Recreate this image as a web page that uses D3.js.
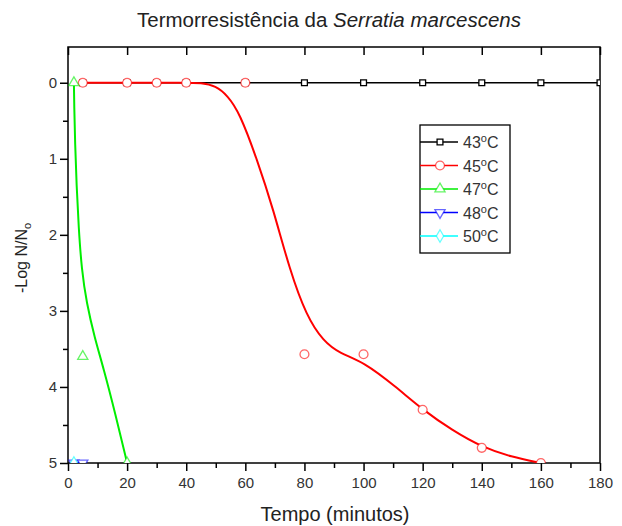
<!DOCTYPE html>
<html>
<head>
<meta charset="utf-8">
<script src="https://cdn.jsdelivr.net/npm/d3@7"></script>
<style>
    body { margin: 0; background: #fff; }
    text { font-family: "Liberation Sans", Arial, sans-serif; }
</style>
</head>
<body>
<div id="chart"></div>
<script>
// measured points
var t43 = [5, 20, 30, 40, 60, 80, 100, 120, 140, 160, 180];
var v43 = [0, 0, 0, 0, 0, 0, 0, 0, 0, 0, 0];
var t45 = [5, 20, 30, 40, 60, 80, 100, 120, 140, 160];
var v45 = [0, 0, 0, 0, 0, 3.57, 3.57, 4.3, 4.8, 5];
var t47 = [2, 5, 20];
var v47 = [0, 3.6, 5];
var t48 = [2, 5];
var v48 = [5, 5];
var t50 = [2];
var v50 = [5];

// fitted curves
var fit45t = [5, 20, 40, 45, 50, 54, 58, 64, 69.5, 75, 80.7, 86.4, 92, 100, 111, 120, 130, 140, 150, 160];
var fit45v = [0, 0, 0, 0, 0.04, 0.17, 0.39, 1.01, 1.67, 2.46, 3.07, 3.4, 3.56, 3.67, 4.0, 4.3, 4.57, 4.79, 4.92, 5.0];
var fit47t = [2, 2.1, 2.4, 2.9, 3.6, 4.6, 6.3, 9, 12, 16, 20];
var fit47v = [0, 0.3, 0.8, 1.35, 1.9, 2.45, 2.9, 3.35, 3.75, 4.35, 5];

var xTicks = [0, 20, 40, 60, 80, 100, 120, 140, 160, 180];
var yTicks = [0, 1, 2, 3, 4, 5];
var legendLabels = ["43", "45", "47", "48", "50"];

function chart() {
    var zip = (a, b) => a.map((d, i) => [d, b[i]]);

    var width = 622, height = 526;
    var mLeft = 68, mRight = 600, mTop = 47, mBottom = 463;

    var x = d3.scaleLinear().domain([0, 180]).range([mLeft, mRight]);
    var y = d3.scaleLinear().domain([-0.47, 5]).range([mTop, mBottom]);

    var svg = d3.select("#chart")
        .append("svg")
        .attr("width", width)
        .attr("height", height);

    svg.append("defs").append("clipPath")
        .attr("id", "plotclip")
        .append("rect")
        .attr("x", mLeft).attr("y", mTop)
        .attr("width", mRight - mLeft).attr("height", mBottom - mTop);

    // title
    var title = svg.append("text")
        .attr("x", 329)
        .attr("y", 27)
        .attr("text-anchor", "middle")
        .style("font-size", "20.5px")
        .attr("fill", "#222");
    title.append("tspan").text("Termorresistência da ");
    title.append("tspan").style("font-style", "italic").text("Serratia marcescens");

    // axes
    function styleAxis(g) {
        g.select(".domain").remove();
        g.selectAll("line").attr("stroke", "#000").attr("stroke-width", 1.5);
        g.selectAll("text")
            .style("font-size", "15px")
            .attr("fill", "#333")
            .style("font-family", '"Liberation Sans", Arial, sans-serif');
    }

    svg.append("g")
        .attr("transform", "translate(0," + mBottom + ")")
        .call(d3.axisBottom(x).tickValues(xTicks).tickSize(8).tickPadding(6))
        .call(styleAxis);
    svg.append("g")
        .attr("transform", "translate(0," + mBottom + ")")
        .call(d3.axisBottom(x).tickValues(d3.range(10, 180, 20)).tickSize(5).tickFormat(""))
        .call(styleAxis);
    // top ticks point inside
    svg.append("g")
        .attr("transform", "translate(0," + mTop + ")")
        .call(d3.axisBottom(x).tickValues(xTicks).tickSize(8).tickFormat(""))
        .call(styleAxis);

    svg.append("g")
        .attr("transform", "translate(" + mLeft + ",0)")
        .call(d3.axisLeft(y).tickValues(yTicks).tickSize(8).tickPadding(3).tickFormat(d3.format("d")))
        .call(styleAxis);
    svg.append("g")
        .attr("transform", "translate(" + mLeft + ",0)")
        .call(d3.axisLeft(y).tickValues(d3.range(0.5, 5, 1)).tickSize(5).tickFormat(""))
        .call(styleAxis);

    svg.append("rect")
        .attr("x", mLeft).attr("y", mTop)
        .attr("width", mRight - mLeft).attr("height", mBottom - mTop)
        .attr("fill", "none")
        .attr("stroke", "#000")
        .attr("stroke-width", 1.5);

    // axis titles
    svg.append("text")
        .attr("x", 335)
        .attr("y", 521)
        .attr("text-anchor", "middle")
        .style("font-size", "20px")
        .attr("fill", "#222")
        .text("Tempo (minutos)");

    var ylab = svg.append("text")
        .attr("transform", "translate(27,258) rotate(-90)")
        .attr("text-anchor", "middle")
        .style("font-size", "16px")
        .attr("fill", "#222");
    ylab.append("tspan").text("-Log N/N");
    ylab.append("tspan").attr("dy", 4).style("font-size", "11px").text("o");

    // series
    var line = d3.line().x(d => x(d[0])).y(d => y(d[1]));
    var smooth = d3.line().x(d => x(d[0])).y(d => y(d[1])).curve(d3.curveBasis);

    var plot = svg.append("g").attr("clip-path", "url(#plotclip)");

    var symSquare = d3.symbol().type(d3.symbolSquare).size(34);
    var symCircle = d3.symbol().type(d3.symbolCircle).size(62);
    var symTri = d3.symbol().type(d3.symbolTriangle).size(45);
    var symDiamond = d3.symbol().type(d3.symbolDiamond).size(45);

    var series = [
        { name: "43", pts: zip(t43, v43), fit: zip(t43, v43), curve: line, color: "#000000", sym: symSquare, rot: 0 },
        { name: "45", pts: zip(t45, v45), fit: zip(fit45t, fit45v), curve: smooth, color: "#ff0000", sym: symCircle, rot: 0 },
        { name: "47", pts: zip(t47, v47), fit: zip(fit47t, fit47v), curve: smooth, color: "#00ee00", sym: symTri, rot: 0 },
        { name: "48", pts: zip(t48, v48), fit: zip(t48, v48), curve: line, color: "#0000ff", sym: symTri, rot: 180 },
        { name: "50", pts: zip(t50, v50), fit: zip(t50, v50), curve: line, color: "#00ffff", sym: symDiamond, rot: 0 }
    ];

    series.forEach(s => {
        plot.append("path")
            .attr("d", s.curve(s.fit))
            .attr("fill", "none")
            .attr("stroke", s.color)
            .attr("stroke-width", s.name == "43" ? 1.5 : 2);
        plot.selectAll(null)
            .data(s.pts)
            .enter()
            .append("path")
            .attr("d", s.sym)
            .attr("transform", d => "translate(" + x(d[0]) + "," + y(d[1]) + ") rotate(" + s.rot + ")")
            .attr("fill", "#fff")
            .attr("stroke", s.color)
            .attr("stroke-opacity", s.name == "43" ? 1 : 0.6)
            .attr("stroke-width", 1.3);
    });

    // legend
    var lg = svg.append("g").attr("transform", "translate(420,125)");
    lg.append("rect")
        .attr("width", 90).attr("height", 128)
        .attr("fill", "#fff")
        .attr("stroke", "#000")
        .attr("stroke-width", 1.3);

    var ly = d3.scalePoint().domain(legendLabels).range([17, 111]);

    series.forEach(s => {
        var g = lg.append("g").attr("transform", "translate(0," + ly(s.name) + ")");
        g.append("line")
            .attr("x1", 0).attr("x2", 38)
            .attr("stroke", s.color).attr("stroke-width", 1.5);
        g.append("path")
            .attr("d", s.sym)
            .attr("transform", "translate(20,0) rotate(" + s.rot + ")")
            .attr("fill", "#fff")
            .attr("stroke", s.color)
            .attr("stroke-opacity", s.name == "43" ? 1 : 0.6)
            .attr("stroke-width", 1.3);
        var t = g.append("text")
            .attr("x", 43)
            .attr("y", 6)
            .style("font-size", "16px")
            .attr("fill", "#333");
        t.append("tspan").text(s.name);
        t.append("tspan").attr("dy", -6).style("font-size", "11px").text("o");
        t.append("tspan").attr("dy", 6).text("C");
    });
}

chart();
</script>
</body>
</html>
